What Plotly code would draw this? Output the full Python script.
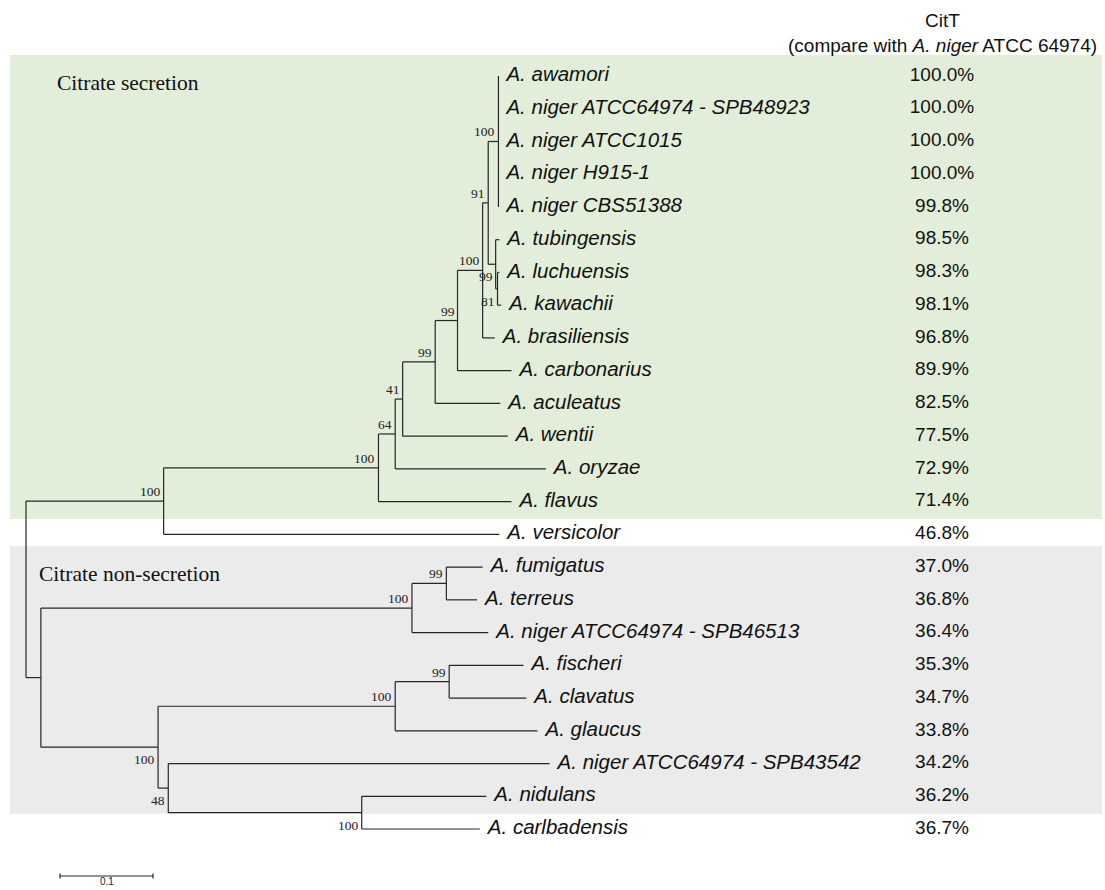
import plotly.graph_objects as go

# ---------------- data ----------------
LEAF_NAMES = [
    "A. awamori", "A. niger ATCC64974 - SPB48923", "A. niger ATCC1015",
    "A. niger H915-1", "A. niger CBS51388", "A. tubingensis", "A. luchuensis",
    "A. kawachii", "A. brasiliensis", "A. carbonarius", "A. aculeatus",
    "A. wentii", "A. oryzae", "A. flavus", "A. versicolor", "A. fumigatus",
    "A. terreus", "A. niger ATCC64974 - SPB46513", "A. fischeri", "A. clavatus",
    "A. glaucus", "A. niger ATCC64974 - SPB43542", "A. nidulans", "A. carlbadensis",
]
CITT_IDENTITY = [100.0, 100.0, 100.0, 100.0, 99.8, 98.5, 98.3, 98.1, 96.8, 89.9,
                 82.5, 77.5, 72.9, 71.4, 46.8, 37.0, 36.8, 36.4, 35.3, 34.7,
                 33.8, 34.2, 36.2, 36.7]
LEAF_PARENT = ["nStar", "nStar", "nStar", "nStar", "nStar", "n99c", "n81", "n81",
               "n100b", "n99b", "n99a", "n41", "n64", "n100a", "sec", "n99d",
               "n99d", "n100c", "n99e", "n99e", "n100e", "n48", "n100f", "n100f"]
LEAF_BRANCH = [0.0, 0.0, 0.0, 0.0, 0.0, 0.004, 0.002, 0.004, 0.013, 0.058,
               0.070, 0.113, 0.162, 0.143, 0.361, 0.039, 0.033, 0.082, 0.080,
               0.083, 0.153, 0.410, 0.134, 0.127]

NODE_IDS = ["root", "sec", "n100a", "n64", "n41", "n99a", "n99b", "n100b", "n91",
            "nStar", "n99c", "n81", "non", "n100c", "n99d", "n100d", "n100e",
            "n99e", "n48", "n100f"]
NODE_PARENT = [None, "root", "sec", "n100a", "n64", "n41", "n99a", "n99b", "n100b",
               "n91", "n91", "n99c", "root", "non", "n100c", "non", "n100d",
               "n100e", "n100d", "n48"]
NODE_BRANCH = [0.0, 0.148, 0.231, 0.018, 0.008, 0.035, 0.024, 0.027, 0.006,
               0.011, 0.008, 0.002, 0.016, 0.399, 0.037, 0.126, 0.255, 0.058,
               0.011, 0.208]
NODE_SUPPORT = [None, 100, 100, 64, 41, 99, 99, 100, 91, 100, 99, 81, None, 100,
                99, 100, 100, 99, 48, 100]

GROUP_TITLES = ["Citrate secretion", "Citrate non-secretion"]
GROUP_FIRST_LEAF = [0, 15]
GROUP_LAST_LEAF = [13, 22]
HEADER_LINES = ["CitT", "(compare with <i>A. niger</i> ATCC 64974)"]
SCALE_BAR = 0.1

# ---------------- layout constants (style) ----------------
W, H = 1105, 890
PX_PER_UNIT = 930.0
ROOT_PX = 26.0
ROW0_PX = 76.0
ROW_PX = 32.74
LABEL_BELOW = {"n99c", "n81", "n100d", "n48", "n100f"}
LINE_COLOR = "#262626"
GREEN = "#e2eed9"
GRAY = "#ebebeb"
SANS = "Liberation Sans, Arial, sans-serif"
SERIF = "Liberation Serif, Times New Roman, serif"


def x_of_px(px):
    return (px - ROOT_PX) / PX_PER_UNIT


def y_of_px(py):
    return (py - ROW0_PX) / ROW_PX


# ---------------- tree geometry ----------------
children = {n: [] for n in NODE_IDS}
for n, p in zip(NODE_IDS, NODE_PARENT):
    if p is not None:
        children[p].append(("node", n))
for i, p in enumerate(LEAF_PARENT):
    children[p].append(("leaf", i))

node_branch = dict(zip(NODE_IDS, NODE_BRANCH))
node_support = dict(zip(NODE_IDS, NODE_SUPPORT))
nx, ny = {}, {}
leaf_x = [0.0] * len(LEAF_NAMES)


def place(node, x):
    nx[node] = x
    ys = []
    for kind, c in children[node]:
        if kind == "leaf":
            leaf_x[c] = x + LEAF_BRANCH[c]
            ys.append(float(c))
        else:
            place(c, x + node_branch[c])
            ys.append(ny[c])
    ny[node] = (min(ys) + max(ys)) / 2.0


place("root", 0.0)

seg_x, seg_y = [], []
for node in NODE_IDS:
    ys = []
    for kind, c in children[node]:
        if kind == "leaf":
            cx, cy = leaf_x[c], float(c)
        else:
            cx, cy = nx[c], ny[c]
        ys.append(cy)
        seg_x += [nx[node], cx, None]
        seg_y += [cy, cy, None]
    seg_x += [nx[node], nx[node], None]
    seg_y += [min(ys), max(ys), None]

fig = go.Figure()

# background group boxes
for title, a, b, col in zip(GROUP_TITLES, GROUP_FIRST_LEAF, GROUP_LAST_LEAF, [GREEN, GRAY]):
    fig.add_shape(type="rect", xref="paper", yref="y",
                  x0=10 / W, x1=1102 / W, y0=a - 0.64, y1=b + 0.53,
                  fillcolor=col, line_width=0, layer="below")

fig.add_trace(go.Scatter(x=seg_x, y=seg_y, mode="lines",
                         line=dict(color=LINE_COLOR, width=1.2),
                         hoverinfo="skip", showlegend=False))

# leaf names
fig.add_trace(go.Scatter(
    x=[v + x_of_px(ROOT_PX + 8) for v in leaf_x], y=list(range(len(LEAF_NAMES))),
    mode="text", text=["<i>%s</i>" % n for n in LEAF_NAMES],
    textposition="middle right",
    textfont=dict(family=SANS, size=20.5, color="#111111"),
    hoverinfo="skip", showlegend=False, cliponaxis=False))

# identity column
fig.add_trace(go.Scatter(
    x=[x_of_px(942)] * len(CITT_IDENTITY), y=list(range(len(CITT_IDENTITY))),
    mode="text", text=["%.1f%%" % v for v in CITT_IDENTITY],
    textposition="middle center",
    textfont=dict(family=SANS, size=19, color="#111111"),
    hoverinfo="skip", showlegend=False, cliponaxis=False))

# bootstrap labels
for node in NODE_IDS:
    s = node_support[node]
    if s is None:
        continue
    below = node in LABEL_BELOW
    fig.add_annotation(x=nx[node], y=ny[node], xref="x", yref="y", text=str(s),
                       showarrow=False, xanchor="right",
                       yanchor="top" if below else "bottom",
                       xshift=-1, yshift=-3 if below else 0,
                       font=dict(family=SERIF, size=13.5, color="#222222"))

# group titles
for title, a, xpx in zip(GROUP_TITLES, GROUP_FIRST_LEAF, [55, 37]):
    fig.add_annotation(x=xpx / W, xref="paper", y=a + 0.2, yref="y", text=title,
                       showarrow=False, xanchor="left", yanchor="middle",
                       font=dict(family=SERIF, size=21.5, color="#111111"))

# header
for i, line in enumerate(HEADER_LINES):
    fig.add_annotation(x=942 / W, xref="paper", y=1 - (20 + 25 * i) / H, yref="paper",
                       text=line, showarrow=False, xanchor="center", yanchor="middle",
                       font=dict(family=SANS, size=19, color="#111111"))

# scale bar
sb_x0 = x_of_px(60)
sb_y = y_of_px(876)
fig.add_trace(go.Scatter(
    x=[sb_x0, sb_x0 + SCALE_BAR, None, sb_x0, sb_x0, None, sb_x0 + SCALE_BAR, sb_x0 + SCALE_BAR],
    y=[sb_y, sb_y, None, sb_y - 0.08, sb_y + 0.08, None, sb_y - 0.08, sb_y + 0.08],
    mode="lines", line=dict(color=LINE_COLOR, width=1.2),
    hoverinfo="skip", showlegend=False, cliponaxis=False))
fig.add_annotation(x=sb_x0 + SCALE_BAR / 2, y=sb_y, xref="x", yref="y", text=str(SCALE_BAR),
                   showarrow=False, yanchor="top", yshift=1, borderpad=0,
                   font=dict(family=SANS, size=10, color="#222222"))

fig.update_layout(
    width=W, height=H, margin=dict(l=0, r=0, t=0, b=0),
    paper_bgcolor="white", plot_bgcolor="rgba(0,0,0,0)",
    xaxis=dict(range=[x_of_px(0), x_of_px(W)], visible=False, fixedrange=True),
    yaxis=dict(range=[y_of_px(H), y_of_px(0)], visible=False, fixedrange=True),
    showlegend=False,
)

fig.write_html("out.html", config={"displayModeBar": False},
               post_script="document.body.style.margin='0';")
